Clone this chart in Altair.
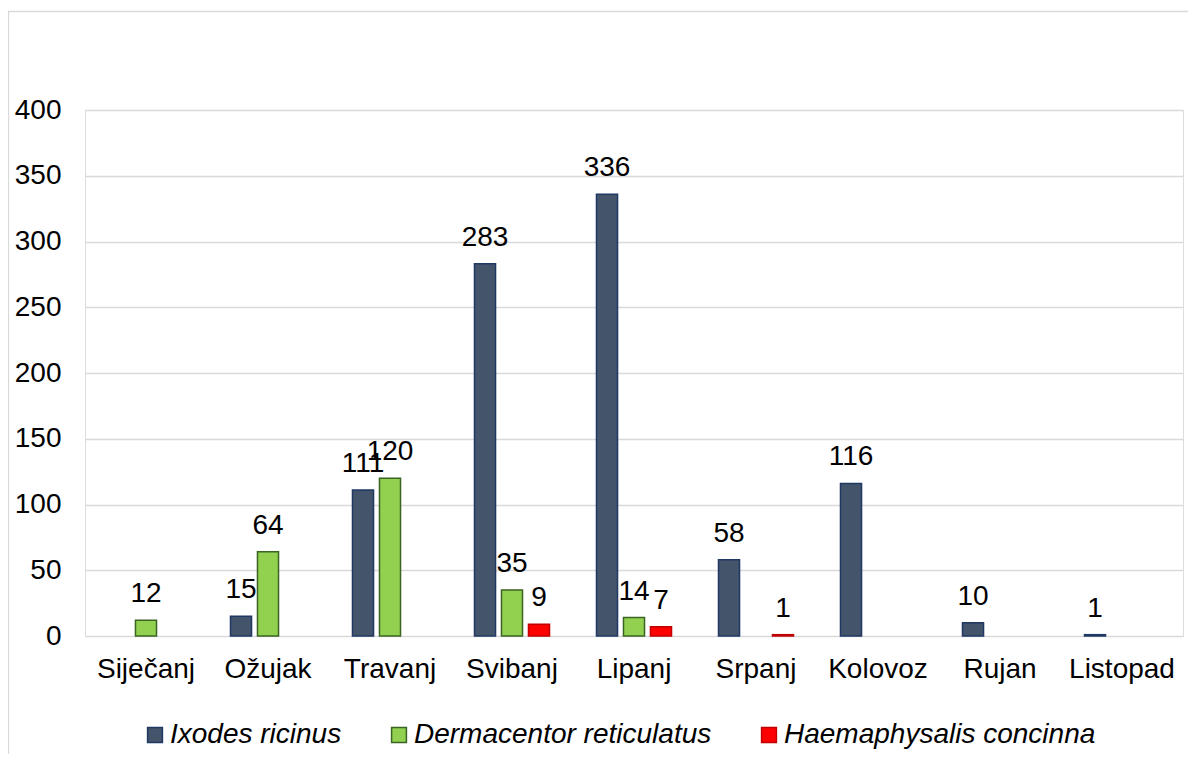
import altair as alt
import pandas as pd

months = ["Siječanj", "Ožujak", "Travanj", "Svibanj", "Lipanj", "Srpanj", "Kolovoz", "Rujan", "Listopad"]
species = ["Ixodes ricinus", "Dermacentor reticulatus", "Haemaphysalis concinna"]
ixodes = [0, 15, 111, 283, 336, 58, 116, 10, 1]
dermacentor = [12, 64, 120, 35, 14, 0, 0, 0, 0]
haemaphysalis = [0, 0, 0, 9, 7, 1, 0, 0, 0]
fills = ["#44546A", "#92D050", "#FF0000"]
strokes = ["#1F3864", "#3B6321", "#C00000"]
y_ticks = [0, 50, 100, 150, 200, 250, 300, 350, 400]

rows = []
for name, vals in zip(species, [ixodes, dermacentor, haemaphysalis]):
    for m, v in zip(months, vals):
        if v > 0:
            rows.append({"month": m, "species": name, "value": v})
df = pd.DataFrame(rows)

FONT = "Liberation Sans, Arial, sans-serif"
FS = 28

x_enc = alt.X("month:N", sort=months, title=None,
              scale=alt.Scale(domain=months, paddingInner=0.385, paddingOuter=0.1925),
              axis=alt.Axis(labelAngle=0, labelFontSize=FS, labelFont=FONT, labelColor="#000000",
                            domain=False, ticks=False, tickSize=0, labelPadding=19, grid=False))
xo_enc = alt.XOffset("species:N", sort=species,
                     scale=alt.Scale(domain=species, paddingInner=0.22, paddingOuter=0))
y_enc = alt.Y("value:Q", title=None,
              scale=alt.Scale(domain=[0, 400], nice=False),
              axis=alt.Axis(values=y_ticks, labelFontSize=FS, labelFont=FONT, labelColor="#000000",
                            domain=False, ticks=False, tickSize=0, labelPadding=24,
                            grid=True, gridColor="#D9D9D9", gridWidth=1.3))

legend_cfg = dict(orient="none", legendX=56, legendY=611, direction="horizontal", title=None,
                  symbolType="square", symbolSize=220, symbolStrokeWidth=1.5,
                  labelFontSize=FS, labelFont=FONT, labelFontStyle="italic", labelColor="#000000",
                  labelOffset=1, columnPadding=43, padding=0, labelLimit=500)

bars = alt.Chart(df).mark_bar(strokeWidth=1.5).encode(
    x=x_enc,
    xOffset=xo_enc,
    y=y_enc,
    fill=alt.Fill("species:N", sort=species, scale=alt.Scale(domain=species, range=fills),
                  legend=alt.Legend(**legend_cfg)),
    stroke=alt.Stroke("species:N", sort=species, scale=alt.Scale(domain=species, range=strokes),
                      legend=alt.Legend(**legend_cfg)),
)

labels = alt.Chart(df).mark_text(fontSize=FS, font=FONT, color="#000000", baseline="alphabetic",
                                 align="center", dy=-18).encode(
    x=alt.X("month:N", sort=months),
    xOffset=alt.XOffset("species:N", sort=species),
    y=alt.Y("value:Q"),
    text=alt.Text("value:Q"),
)

border = alt.Chart(pd.DataFrame({"a": [0]})).mark_rect(
    fill=None, stroke="#D9D9D9", strokeWidth=1.3).encode(
    x=alt.value(-76.5), x2=alt.value(1300), y=alt.value(-98.5), y2=alt.value(900)
)

chart = alt.layer(border, bars, labels).properties(
    width=1098, height=526,
    autosize=alt.AutoSizeParams(type="none"),
    padding={"left": 77, "top": 102, "right": 5, "bottom": 118},
).configure_view(stroke=None).configure(background="white")

chart.save("out.html", embed_options={"renderer": "svg", "actions": False})
